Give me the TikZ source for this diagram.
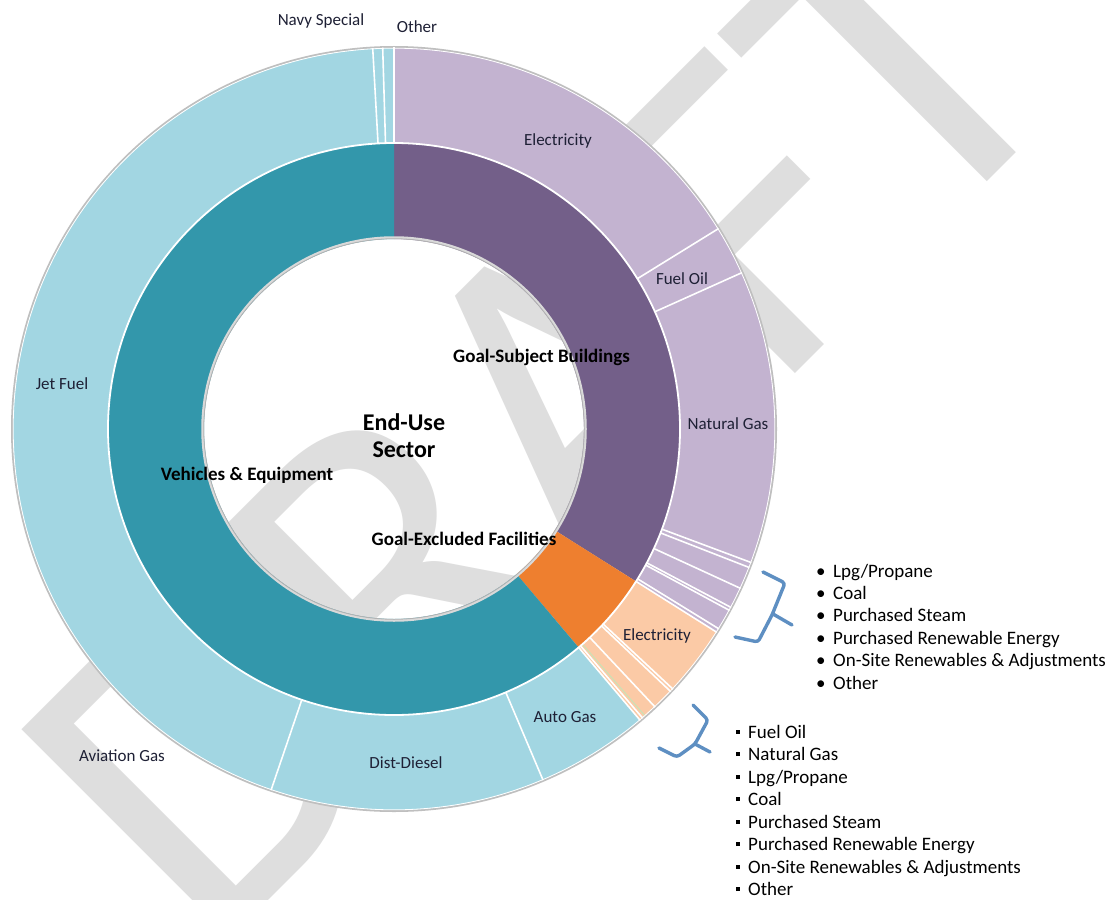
\documentclass[tikz,border=0pt]{standalone}
\usepackage{fontspec}
\setmainfont{Carlito}
\usetikzlibrary{calc}
\definecolor{bldg}{HTML}{735F89}
\definecolor{bldgL}{HTML}{C3B3D0}
\definecolor{veh}{HTML}{3397AB}
\definecolor{vehL}{HTML}{A2D6E2}
\definecolor{fac}{HTML}{EE7F2F}
\definecolor{facL}{HTML}{FBCAA6}
\definecolor{wmgray}{HTML}{DEDEDE}
\definecolor{brk}{HTML}{5E8FC2}
\definecolor{lbl}{HTML}{1E2035}
\definecolor{faintgreen}{HTML}{C9E3B6}
% annular sector: colour, start, end (degrees clockwise from top), inner r, outer r
\newcommand{\ringseg}[5]{%
  \fill[#1] ({#2-90}:#5) arc[start angle={#2-90}, end angle={#3-90}, radius=#5]
    -- ({#3-90}:#4) arc[start angle={#3-90}, end angle={#2-90}, radius=#4] -- cycle;}
\newcommand{\radsep}[4][sepline]{\draw[#1] ({#2-90}:#3) -- ({#2-90}:#4);}
\tikzset{
  sepline/.style={white, line width=1.6},
  seglabel/.style={font=\fontsize{17}{19}\selectfont, text=lbl, inner sep=0},
  grouplabel/.style={font=\bfseries\fontsize{19}{21}\selectfont, text=black, inner sep=0},
  listitem/.style={font=\fontsize{19}{22}\selectfont, text=black, inner sep=0, anchor=base west},
  bracket/.style={draw=brk, line width=3.4, rounded corners=3, line cap=round, line join=round},
  wmark/.style={font=\fontsize{460}{460}\selectfont, text=wmgray, inner sep=0}
}
\begin{document}
\begin{tikzpicture}[x=1pt, y=-1pt]
\useasboundingbox (0,0) rectangle (1110,899);
\fill[white] (0,0) rectangle (1110,899);
% watermark
\node[wmark, rotate=45, anchor=base west] (wm) at (208,961) {DRAFT};
\coordinate (C) at (394,429);
\begin{scope}[shift={(394,429)}]
  % outer shadow
  \draw[black!25, line width=2] (0,0) circle[radius=382];
  % inner ring
  \ringseg{bldg}{0}{122.2}{190}{286}
  \ringseg{fac}{122.2}{139.8}{190}{286}
  \ringseg{veh}{139.8}{360}{190}{286}
  % outer ring
  \ringseg{bldgL}{0}{122.2}{286}{381}
  \ringseg{facL}{122.2}{139.8}{286}{381}
  \ringseg{vehL}{139.8}{360}{286}{381}
  % separators, outer ring
  \foreach \a in {0,58.3,65.8,110.5,111.3,114.7,117.9,118.4,121.6,122.2,
                  133.0,133.5,136.8,139.3,139.8,
                  157,198.8,356.8,358.3}
    {\radsep{\a}{286}{381.5}}
  \radsep[faintgreen, line width=1]{138.8}{286}{381}
  % ring border
  \draw[white, line width=1.8] (0,0) circle[radius=286];
  \draw[white, line width=0.8] (0,0) circle[radius=380.8];
  % hole shadow
  \draw[black!15, line width=2.5] (0,0) circle[radius=191.5];
  \draw[black!30, line width=0.8] (0,0) circle[radius=190.3];
\end{scope}
% segment labels
\node[seglabel] (navy) at (321,21) {Navy Special};
\node[seglabel] (oth) at (417,27) {Other};
\node[seglabel] (elec1) at (558,141) {Electricity};
\node[seglabel] (fuel) at (682,279) {Fuel Oil};
\node[seglabel] (ngas) at (728,424) {Natural Gas};
\node[seglabel] (jet) at (62,384) {Jet Fuel};
\node[seglabel] (avgas) at (122,756) {Aviation Gas};
\node[seglabel] (diesel) at (406,763) {Dist-Diesel};
\node[seglabel] (auto) at (565,717) {Auto Gas};
\node[seglabel] (elec2) at (657,636) {Electricity};
% group labels
\node[grouplabel, anchor=west] (gsb) at (453,357) {Goal-Subject Buildings};
\node[grouplabel] (gef) at (464,539) {Goal-Excluded Facilities};
\node[grouplabel] (vae) at (247,475) {Vehicles \& Equipment};
\node[font=\bfseries\fontsize{24}{27}\selectfont, align=center, inner sep=0] (eus) at (404,436) {End-Use\\Sector};
% brackets
\draw[bracket] (763,572) -- (785,583) -- (772,615) -- (758,642) -- (735,637);
\draw[bracket] (773,614) -- (792,625);
\draw[bracket] (693,705) -- (708,720) -- (695,744) -- (677,757) -- (659,748);
\draw[bracket] (695,744) -- (710,752);
% upper list
\foreach \t [count=\i] in {Lpg/Propane, Coal, Purchased Steam, Purchased Renewable Energy, On-Site Renewables \& Adjustments, Other}
  \node[listitem] (u\i) at (816, 577+22.4*\i-22.4) {\makebox[17pt][l]{\textbullet}\t};
% lower list
\foreach \t [count=\i] in {Fuel Oil, Natural Gas, Lpg/Propane, Coal, Purchased Steam, Purchased Renewable Energy, On-Site Renewables \& Adjustments, Other}
  \node[listitem] (l\i) at (736, 738+22.5*\i-22.5) {\makebox[12pt][l]{\raisebox{4.5pt}{\rule{4pt}{4pt}}}\t};
\end{tikzpicture}
\end{document}
